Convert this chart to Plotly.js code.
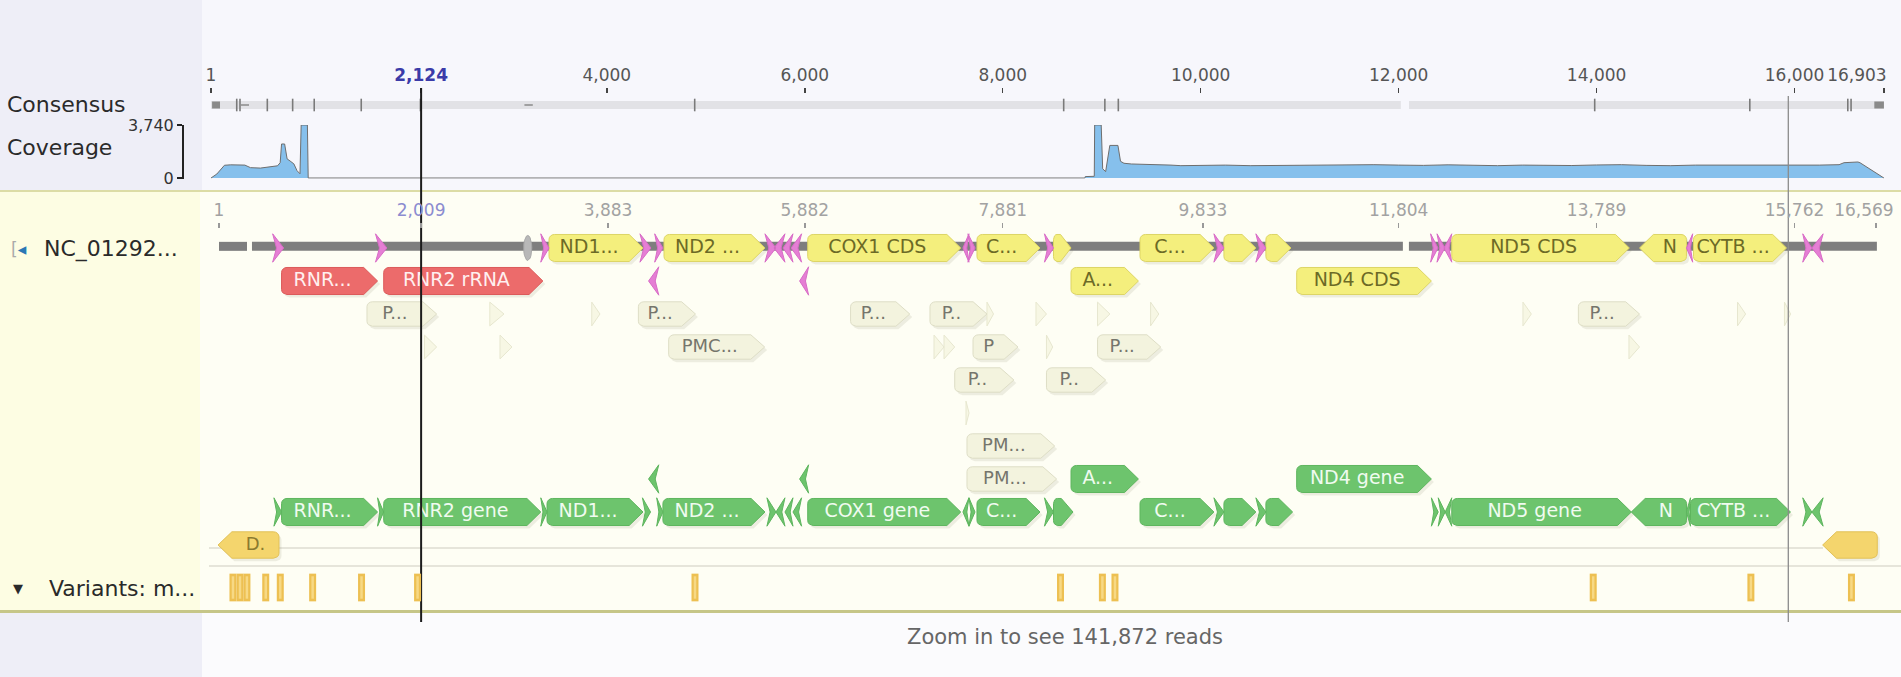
<!DOCTYPE html>
<html><head><meta charset="utf-8">
<script src="https://cdn.plot.ly/plotly-3.0.1.min.js"></script>
<style>html,body{margin:0;padding:0;background:#f6f6fb;overflow:hidden}#chart{width:1901px;height:677px}</style>
</head><body><div id="chart"></div>
<script>
// ================= DATA =================
const consensusTickPos  = [1, 2124, 4000, 6000, 8000, 10000, 12000, 14000, 16000, 16903];
const consensusTickText = ['1', '2,124', '4,000', '6,000', '8,000', '10,000', '12,000', '14,000', '16,000', '16,903'];
const referenceTickPos  = [82, 2124, 4012, 6000, 8000, 10023, 12000, 14000, 16000, 16822];
const referenceTickText = ['1', '2,009', '3,883', '5,882', '7,881', '9,833', '11,804', '13,789', '15,762', '16,569'];
const selectedPos = 2124;
const markerPos = 15937;
const coverageMax = 3740;

const coveragePos = [1, 60, 137, 200, 343, 400, 500, 600, 673, 700, 714, 745, 770, 800, 838, 870, 900, 912, 975, 983,
  8830, 8834, 8925, 8929, 8995, 9010, 9040, 9082, 9164, 9190, 9225, 9300, 9494, 9700, 9800, 10000, 10250, 10500, 10750,
  11000, 11250, 11500, 11750, 12000, 12250, 12500, 12750, 13000, 13250, 13500, 13750, 14000, 14250, 14500, 14750,
  15000, 15250, 15500, 15750, 16000, 16250, 16450, 16500, 16640, 16661, 16903];
const coverageDepth = [0, 280, 900, 930, 910, 730, 700, 780, 860, 1080, 2400, 2400, 1350, 1200, 1000, 520, 300, 3740, 3740, 0,
  0, 100, 120, 3740, 3740, 650, 450, 2300, 2300, 1180, 1040, 990, 970, 910, 870, 890, 910, 870, 890,
  880, 920, 900, 940, 910, 890, 930, 900, 870, 910, 890, 880, 920, 940, 890, 870,
  910, 900, 920, 890, 880, 910, 940, 1080, 1130, 1080, 0];

const consensusSegments = [[1, 12022], [12105, 16903]];
const consensusBlocks = [[12, 92], [16806, 16903]];
const disagreementPos = [261, 294, 570, 826, 1044, 1519, 2117, 4888, 8616, 9032, 9168, 13981, 15548, 16538, 16571];
const gapPos = [343, 3210];

const referenceSegments = [[82, 365], [415, 12043], [12104, 16832]];

// [start, end, row, strand, label]
const cdsFeatures = [
  [3416, 4366, 0, 1, 'ND1...'], [4578, 5598, 0, 1, 'ND2 ...'], [6030, 7576, 0, 1, 'COX1 CDS'],
  [7740, 8377, 0, 1, 'C...'], [8513, 8690, 0, 1, ''], [8690, 9371, 1, 1, 'A...'],
  [9387, 10134, 0, 1, 'C...'], [10235, 10558, 0, 1, ''], [10659, 10912, 0, 1, ''],
  [10970, 12331, 1, 1, 'ND4 CDS'], [12537, 14331, 0, 1, 'ND5 CDS'], [14434, 14908, 0, -1, 'N'],
  [14979, 15919, 0, 1, 'CYTB ...']
];
const geneFeatures = [
  [714, 1684, 8, 1, 'RNR...'], [1746, 3333, 8, 1, 'RNR2 gene'], [3396, 4366, 8, 1, 'ND1...'],
  [4567, 5598, 8, 1, 'ND2 ...'], [6030, 7576, 8, 1, 'COX1 gene'], [7740, 8377, 8, 1, 'C...'],
  [8513, 8710, 8, 1, ''], [8690, 9371, 7, 1, 'A...'], [9387, 10134, 8, 1, 'C...'],
  [10235, 10558, 8, 1, ''], [10659, 10929, 8, 1, ''], [10970, 12331, 7, 1, 'ND4 gene'],
  [12537, 14351, 8, 1, 'ND5 gene'], [14351, 14908, 8, -1, 'N'], [14949, 15959, 8, 1, 'CYTB ...']
];
const rrnaFeatures = [[714, 1684, 1, 1, 'RNR...'], [1746, 3354, 1, 1, 'RNR2 rRNA']];
const dloopFeatures = [[72, 688, 9, -1, 'D.'], [16284, 16836, 9, -1, '']];
// [start, end, row, strand]
const trnaFeatures = [
  [624, 735, 0, 1], [1663, 1778, 0, 1], [3333, 3416, 0, 1], [4335, 4446, 0, 1], [4484, 4567, 0, 1],
  [5598, 5709, 0, 1], [5689, 5800, 0, -1], [5780, 5881, 0, -1], [5861, 5968, 0, -1],
  [7598, 7659, 0, -1], [7649, 7721, 0, 1], [8422, 8513, 0, 1], [10134, 10235, 0, 1], [10558, 10659, 0, 1],
  [12323, 12398, 0, 1], [12388, 12468, 0, 1], [12458, 12537, 0, -1], [14908, 14971, 0, -1],
  [16083, 16175, 0, 1], [16175, 16289, 0, -1], [4422, 4525, 1, -1], [5948, 6039, 1, -1]
];
const trnaGeneFeatures = [
  [637, 714, 8, 1], [1684, 1746, 8, 1], [3333, 3396, 8, 1], [4360, 4442, 8, 1], [4504, 4567, 8, 1],
  [5618, 5709, 8, 1], [5709, 5800, 8, -1], [5800, 5881, 8, -1], [5881, 5968, 8, -1],
  [7598, 7659, 8, -1], [7659, 7720, 8, 1], [8422, 8513, 8, 1], [10134, 10235, 8, 1], [10558, 10659, 8, 1],
  [12331, 12400, 8, 1], [12400, 12470, 8, 1], [12470, 12537, 8, -1], [14908, 14949, 8, -1],
  [16083, 16175, 8, 1], [16175, 16289, 8, -1], [4422, 4525, 7, -1], [5948, 6039, 7, -1]
];
// [start, end, row, label]
const primerFeatures = [
  [1577, 2281, 2, 'P...'], [4319, 4896, 2, 'P...'], [6463, 7061, 2, 'P...'], [7265, 7841, 2, 'P..'],
  [13816, 14434, 2, 'P...'], [4625, 5595, 3, 'PMC...'], [7700, 8154, 3, 'P'], [8958, 9597, 3, 'P...'],
  [7515, 8113, 4, 'P..'], [8442, 9040, 4, 'P..'], [7639, 8525, 6, 'PM...'], [7639, 8545, 7, 'PM...']
];
// [start, end, row]
const faintFeatures = [
  [2818, 2961, 2], [3848, 3931, 2], [7841, 7907, 2], [8336, 8442, 2], [8958, 9083, 2], [9494, 9577, 2],
  [13256, 13341, 2], [15424, 15506, 2], [15898, 15960, 2],
  [2158, 2281, 3], [2921, 3042, 3], [7306, 7407, 3], [7407, 7515, 3], [8442, 8505, 3], [14327, 14434, 3],
  [7629, 7660, 5]
];
const otherFeatures = [[3160, 3242, 0]];
const variantPos = [223, 294, 364, 554, 701, 1028, 1522, 2088, 4891, 8584, 9007, 9134, 13966, 15559, 16575];

// ================= LAYOUT HELPERS =================
const W = 1901, H = 677;
const FONT = 'DejaVu Sans, Verdana, sans-serif';
const X_RANGE = [-2130.7, 17075.6];
const TRACK_RANGE = [13, -7.515];
const pxRow = py => (py - 248) / 33;
const CONS_ROW = pxRow(105);
const VAR_ROW = pxRow(587.5);
const TIP = 140, RADX = 55, RADY = 0.15;

function boxArrow(s, e, r, dir, hh, tip, out) {
  const len = e - s;
  const t = Math.min(tip, len * 0.6);
  const rx = Math.max(0, Math.min(RADX, (len - t) / 2));
  const ry = Math.min(RADY, hh * 0.4);
  const pts = [[rx, -hh], [len - t, -hh], [len, 0], [len - t, hh], [rx, hh]];
  for (let k = 1; k <= 4; k++) { const a = Math.PI / 2 + k * Math.PI / 8; pts.push([rx + rx * Math.cos(a), hh - ry + ry * Math.sin(a)]); }
  for (let k = 0; k <= 4; k++) { const a = Math.PI + k * Math.PI / 8; pts.push([rx + rx * Math.cos(a), -hh + ry + ry * Math.sin(a)]); }
  pts.forEach(p => { out.x.push(dir > 0 ? s + p[0] : e - p[0]); out.y.push(r + p[1]); });
  out.x.push(null); out.y.push(null);
  return dir > 0 ? s + (len - t) / 2 : e - (len - t) / 2;
}
function chevron(s, e, r, dir, hh, out) {
  const n = (e - s) * 0.35;
  const pts = dir > 0 ? [[s, -hh], [e, 0], [s, hh], [s + n, 0], [s, -hh]] : [[e, -hh], [s, 0], [e, hh], [e - n, 0], [e, -hh]];
  pts.forEach(p => { out.x.push(p[0]); out.y.push(r + p[1]); });
  out.x.push(null); out.y.push(null);
}
function triangle(s, e, r, hh, out) {
  [[s, -hh], [e, 0], [s, hh], [s, -hh]].forEach(p => { out.x.push(p[0]); out.y.push(r + p[1]); });
  out.x.push(null); out.y.push(null);
}
function ellipse(s, e, r, hh, out) {
  const cx = (s + e) / 2, ax = (e - s) / 2;
  for (let k = 0; k <= 20; k++) { const a = k * Math.PI / 10; out.x.push(cx + ax * Math.cos(a)); out.y.push(r + hh * Math.sin(a)); }
  out.x.push(null); out.y.push(null);
}
function polyTrace(poly, fill, line) {
  return { type: 'scatter', mode: 'lines', x: poly.x, y: poly.y, xaxis: 'x', yaxis: 'y2', fill: 'toself',
    fillcolor: fill, line: { color: line, width: 1 }, hoverinfo: 'skip', showlegend: false };
}
function textTrace(lbl, color, size) {
  return { type: 'scatter', mode: 'text', x: lbl.x, y: lbl.y, text: lbl.t, xaxis: 'x', yaxis: 'y2',
    textposition: 'middle center', textfont: { family: FONT, size: size || 19, color: color },
    cliponaxis: false, hoverinfo: 'skip', showlegend: false };
}
function boxGroup(list, hh, shadow) {
  const poly = { x: [], y: [] }, lbl = { x: [], y: [], t: [] };
  list.forEach(f => {
    const cx = boxArrow(f[0], f[1], f[2], f[3], hh, TIP, poly);
    if (shadow) boxArrow(f[0] + 25, f[1] + 25, f[2] + 0.09, f[3], hh, TIP, shadow);
    if (f[4]) { lbl.x.push(cx); lbl.y.push(f[2]); lbl.t.push(f[4]); }
  });
  return { poly, lbl };
}

const traces = [];
const shadow = { x: [], y: [] };

// ---- coverage ----
traces.push({ type: 'scatter', mode: 'lines', x: coveragePos, y: coverageDepth, xaxis: 'x', yaxis: 'y',
  fill: 'tozeroy', fillcolor: '#86c0ec', line: { color: '#6e6e6e', width: 1 }, hoverinfo: 'skip', showlegend: false });

// ---- consensus bar ----
(function () {
  const bx = [], by = [];
  consensusSegments.forEach(s => { bx.push(s[0], s[1], null); by.push(CONS_ROW, CONS_ROW, null); });
  traces.push({ type: 'scatter', mode: 'lines', x: bx, y: by, xaxis: 'x', yaxis: 'y2', line: { color: '#e2e2e6', width: 8 }, hoverinfo: 'skip', showlegend: false });
  const kx = [], ky = [];
  consensusBlocks.forEach(s => { kx.push(s[0], s[1], null); ky.push(CONS_ROW, CONS_ROW, null); });
  traces.push({ type: 'scatter', mode: 'lines', x: kx, y: ky, xaxis: 'x', yaxis: 'y2', line: { color: '#8a8a8a', width: 7 }, hoverinfo: 'skip', showlegend: false });
  traces.push({ type: 'scatter', mode: 'markers', x: disagreementPos, y: disagreementPos.map(() => CONS_ROW), xaxis: 'x', yaxis: 'y2',
    marker: { symbol: 'line-ns', size: 9, line: { color: '#7a7a7a', width: 1.6 } }, hoverinfo: 'skip', showlegend: false });
  traces.push({ type: 'scatter', mode: 'markers', x: gapPos, y: gapPos.map(() => CONS_ROW), xaxis: 'x', yaxis: 'y2',
    marker: { symbol: 'line-ew', size: 6, line: { color: '#8a8a8a', width: 1.5 } }, hoverinfo: 'skip', showlegend: false });
})();

// ---- reference backbone ----
(function () {
  const bx = [], by = [];
  referenceSegments.forEach(s => { bx.push(s[0], s[1], null); by.push(-0.05, -0.05, null); });
  traces.push({ type: 'scatter', mode: 'lines', x: bx, y: by, xaxis: 'x', yaxis: 'y2', line: { color: '#7e7e7e', width: 9 }, hoverinfo: 'skip', showlegend: false });
})();

// ---- features ----
const faintPoly = { x: [], y: [] };
faintFeatures.forEach(f => triangle(f[0], f[1], f[2], 0.36, faintPoly));
const primer = boxGroup(primerFeatures.map(f => [f[0], f[1], f[2], 1, f[3]]), 0.37, shadow);
const cds = boxGroup(cdsFeatures, 0.41, shadow);
const gene = boxGroup(geneFeatures, 0.41, shadow);
const rrna = boxGroup(rrnaFeatures, 0.41, shadow);
const dloop = boxGroup(dloopFeatures, 0.40, shadow);
const trnaPoly = { x: [], y: [] }, trnaGenePoly = { x: [], y: [] }, otherPoly = { x: [], y: [] };
trnaFeatures.forEach(f => chevron(f[0], f[1], f[2], f[3], 0.43, trnaPoly));
trnaGeneFeatures.forEach(f => chevron(f[0], f[1], f[2], f[3], 0.43, trnaGenePoly));
otherFeatures.forEach(f => ellipse(f[0], f[1], f[2], 0.38, otherPoly));

traces.push(polyTrace(shadow, 'rgba(120,120,90,0.13)', 'rgba(0,0,0,0)'));
traces.push(polyTrace(faintPoly, '#f7f7e4', '#e7e7cf'));
traces.push(polyTrace(primer.poly, '#f3f3de', '#dedec6'));
traces.push(polyTrace(otherPoly, '#b8b8b8', '#a8a8a8'));
traces.push(polyTrace(rrna.poly, '#ec6b6b', '#dc5a5a'));
traces.push(polyTrace(cds.poly, '#f4ef7d', '#ddd565'));
traces.push(polyTrace(gene.poly, '#6dc46d', '#5eb55e'));
traces.push(polyTrace(dloop.poly, '#f4d56d', '#e2c158'));
traces.push(polyTrace(trnaPoly, '#e57ed4', '#d86cc6'));
traces.push(polyTrace(trnaGenePoly, '#6dc46d', '#5eb55e'));

traces.push(textTrace(primer.lbl, '#75756c', 18));
traces.push(textTrace(rrna.lbl, '#fff0f0'));
traces.push(textTrace(cds.lbl, '#6c6a26'));
traces.push(textTrace(gene.lbl, '#f0fbf0'));
traces.push(textTrace(dloop.lbl, '#8a7a30', 18));

// ---- variants (overlay axis x4) ----
(function () {
  const vx = [], vy = [];
  variantPos.forEach(p => { vx.push(p, p, null); vy.push(VAR_ROW - 0.42, VAR_ROW + 0.42, null); });
  traces.push({ type: 'scatter', mode: 'lines', x: vx, y: vy, xaxis: 'x4', yaxis: 'y2', line: { color: '#edc052', width: 7 }, hoverinfo: 'skip', showlegend: false });
  traces.push({ type: 'scatter', mode: 'lines', x: vx, y: vy.map(v => v === null ? null : (v < VAR_ROW ? v + 0.08 : v - 0.08)), xaxis: 'x4', yaxis: 'y2', line: { color: '#f7d985', width: 2.5 }, hoverinfo: 'skip', showlegend: false });
})();

// ---- cursor lines (overlay axes, drawn on top) ----
traces.push({ type: 'scatter', mode: 'lines', x: [markerPos, markerPos], y: [pxRow(96), pxRow(622)], xaxis: 'x2', yaxis: 'y2',
  line: { color: '#8c8c8c', width: 1.3 }, hoverinfo: 'skip', showlegend: false });
traces.push({ type: 'scatter', mode: 'lines', x: [selectedPos, selectedPos], y: [pxRow(88), pxRow(622)], xaxis: 'x3', yaxis: 'y2',
  line: { color: '#1c1c1c', width: 2 }, hoverinfo: 'skip', showlegend: false });

// ================= LAYOUT =================
const py = p => 1 - p / H, pxF = p => p / W;
function rect(x0, x1, y0, y1, color) {
  return { type: 'rect', xref: 'paper', yref: 'paper', x0: pxF(x0), x1: pxF(x1), y0: py(y1), y1: py(y0), fillcolor: color, line: { width: 0 }, layer: 'below' };
}
function hline(x0, x1, y, color, w) {
  return { type: 'line', xref: 'paper', yref: 'paper', x0: pxF(x0), x1: pxF(x1), y0: py(y), y1: py(y), line: { color: color, width: w }, layer: 'below' };
}
const shapes = [
  rect(0, 202, 0, 191, '#eeeef7'),
  rect(202, W, 0, 191, '#f7f7fc'),
  rect(0, 200, 191, 612, '#fdfde3'),
  rect(200, W, 191, 612, '#fefef4'),
  rect(0, 202, 612, H, '#eeeef7'),
  rect(202, W, 612, H, '#fbfbfd'),
  hline(0, W, 191, '#dcdca6', 2),
  hline(209, 1823, 548, '#dedcd2', 1.5),
  hline(209, W, 566, '#dedcd2', 1.5),
  hline(0, W, 611.5, '#c6c688', 3)
];

function ann(text, x, y, size, color, anchor) {
  return { text: text, xref: 'paper', yref: 'paper', x: pxF(x), y: py(y), xanchor: anchor || 'left', yanchor: 'middle',
    showarrow: false, font: { family: FONT, size: size, color: color } };
}
const annotations = [
  ann('Consensus', 5, 105, 22, '#2a2a2a'),
  ann('Coverage', 5, 148, 22, '#2a2a2a'),
  ann('<span style="color:#aaa">[</span><span style="color:#2b78b5">◂</span>', 9, 249, 17, '#2b78b5'),
  ann('NC_01292...', 42, 249, 22, '#2a2a2a'),
  ann('▼', 11, 588, 13, '#2a2a2a'),
  ann('Variants: m...', 47, 588, 22, '#2a2a2a'),
  ann('Zoom in to see 141,872 reads', 1065, 637, 21, '#666666', 'center')
];

const nC = consensusTickPos.length - 1, nR = referenceTickPos.length - 1;
const topText = consensusTickText.map(t => t === '2,124' ? '<b><span style="color:#3b3ba8">' + t + '</span></b>' : t);
const refText = referenceTickText.map(t => t === '2,009' ? '<span style="color:#8c8cd0">' + t + '</span>' : t);

function topAxis(pos, vals, text, color, tcolor, shift, overlay) {
  const a = { range: X_RANGE, domain: [0, 1], anchor: 'free', position: py(pos), side: 'top',
    showgrid: false, zeroline: false, showline: false, ticks: 'outside', ticklen: 5, tickwidth: 1.5, tickcolor: tcolor,
    tickmode: 'array', tickvals: vals, ticktext: text, ticklabelstandoff: 0, ticklabelshift: shift,
    tickfont: { family: FONT, size: 17, color: color }, fixedrange: true };
  if (overlay) a.overlaying = 'x';
  return a;
}

const layout = {
  width: W, height: H, margin: { l: 0, r: 0, t: 0, b: 0 },
  paper_bgcolor: '#f6f6fb', plot_bgcolor: 'rgba(0,0,0,0)',
  showlegend: false, hovermode: false,
  xaxis: topAxis(93, consensusTickPos.slice(0, nC), topText.slice(0, nC), '#555', '#444', 0, false),
  xaxis3: topAxis(93, consensusTickPos.slice(nC), topText.slice(nC), '#555', '#444', -27, true),
  xaxis2: topAxis(228, referenceTickPos.slice(0, nR), refText.slice(0, nR), '#a2a2a2', '#999', 0, true),
  xaxis4: topAxis(228, referenceTickPos.slice(nR), refText.slice(nR), '#a2a2a2', '#999', -12, true),
  yaxis: { domain: [py(178.85), py(125)], range: [-60, coverageMax], anchor: 'free', position: pxF(182), side: 'left',
    showgrid: false, zeroline: false, showline: true, linecolor: '#222', linewidth: 1.5,
    ticks: 'outside', ticklen: 5, tickwidth: 1.5, tickcolor: '#222', tickmode: 'array',
    tickvals: [0, coverageMax], ticktext: ['0', '3,740'], tickfont: { family: FONT, size: 16, color: '#333' }, fixedrange: true },
  yaxis2: { domain: [0, 1], range: TRACK_RANGE, anchor: 'x', visible: false, fixedrange: true },
  shapes: shapes, annotations: annotations
};

Plotly.newPlot('chart', traces, layout, { staticPlot: true, displayModeBar: false });
</script></body></html>
